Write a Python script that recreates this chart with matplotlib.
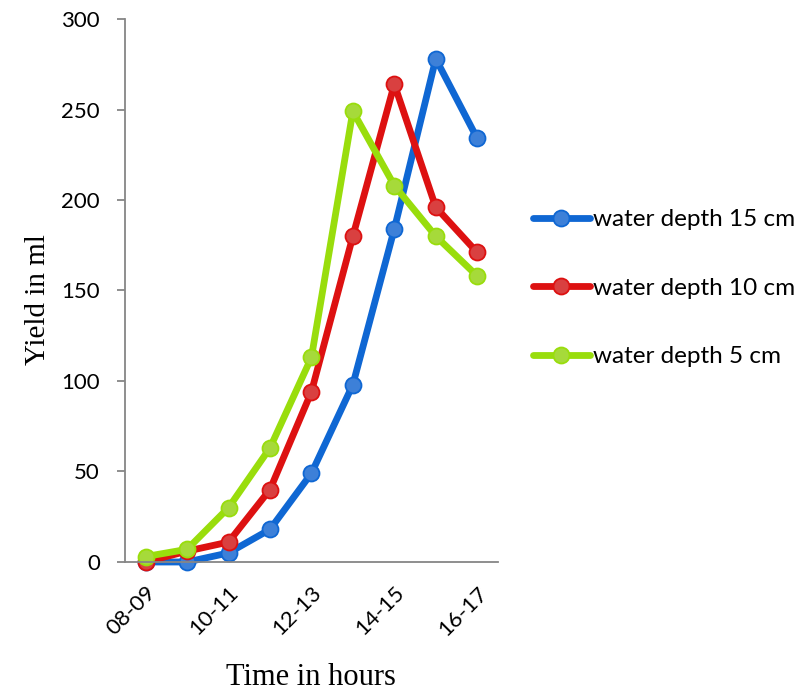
import matplotlib
matplotlib.use("Agg")
import matplotlib.pyplot as plt

categories = ["08-09", "09-10", "10-11", "11-12", "12-13", "13-14", "14-15", "15-16", "16-17"]
depth15 = [0, 0, 5, 18, 49, 98, 184, 278, 234]
depth10 = [0, 6, 11, 40, 94, 180, 264, 196, 171]
depth5 = [3, 7, 30, 63, 113, 249, 208, 180, 158]
series_names = ["water depth 15 cm", "water depth 10 cm", "water depth 5 cm"]
yticks = [0, 50, 100, 150, 200, 250, 300]

line_colors = ["#0F67D3", "#DD1111", "#99DD0C"]
face_colors = ["#3D80D8", "#D94040", "#A6DA3A"]

fig = plt.figure(figsize=(8.11, 6.91), dpi=100)
ax = fig.add_axes([0.154, 0.1867, 0.46, 0.7858])

x = list(range(len(categories)))
for vals, name, lc, fc in zip([depth15, depth10, depth5], series_names, line_colors, face_colors):
    ax.plot(x, vals, color=lc, lw=4.9, marker="o", ms=11.5, mfc=fc, mec=lc, mew=1.3,
            label=name, solid_capstyle="round", solid_joinstyle="round", clip_on=False)

ax.set_xlim(-0.5, len(categories) - 0.5)
ax.set_ylim(0, 300)
ax.set_yticks(yticks)
ax.set_yticklabels([str(v) for v in yticks], fontfamily="Lato", fontsize=16)
tick_idx = list(range(0, len(categories), 2))
ax.set_xticks(tick_idx)
ax.set_xticklabels([categories[i] for i in tick_idx], rotation=45, ha="right",
                   rotation_mode="anchor", fontfamily="Lato", fontsize=16)

for side in ["top", "right"]:
    ax.spines[side].set_visible(False)
for side in ["left", "bottom"]:
    ax.spines[side].set_color("#868686")
    ax.spines[side].set_linewidth(1.3)
ax.tick_params(axis="y", direction="out", length=6, color="#868686", width=1.3, pad=12)
ax.tick_params(axis="x", length=0, pad=15)

ax.set_ylabel("Yield in ml", fontfamily="Liberation Serif", fontsize=21, va="center", ha="center")
ax.yaxis.set_label_coords(-0.232, 0.483)
ax.set_xlabel("Time in hours", fontfamily="Liberation Serif", fontsize=22, va="center", ha="center")
ax.xaxis.set_label_coords(0.5, -0.213)

leg = fig.legend(loc="center left", bbox_to_anchor=(0.657, 0.583), frameon=False,
                 prop={"family": "Lato", "size": 17.5}, handlelength=2.35,
                 labelspacing=1.95, handletextpad=0.12, borderaxespad=0, borderpad=0)

fig.savefig("out.png", dpi=100)
